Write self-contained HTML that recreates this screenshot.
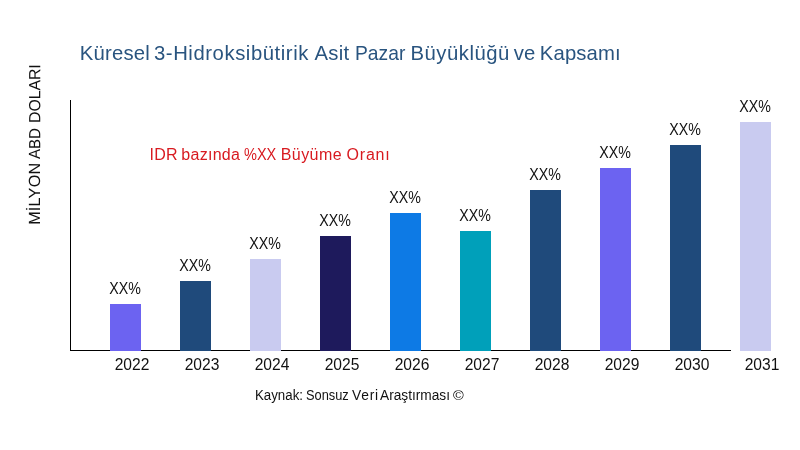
<!DOCTYPE html>
<html lang="tr">
<head>
<meta charset="utf-8">
<title>Küresel 3-Hidroksibütirik Asit Pazar Büyüklüğü ve Kapsamı</title>
<style>
html,body{margin:0;padding:0;background:#fff;}
body{width:800px;height:450px;overflow:hidden;position:relative;font-family:"Liberation Sans","DejaVu Sans",sans-serif;color:#111;}
.line{position:absolute;left:0;width:800px;height:0;white-space:nowrap;line-height:1;margin:0;font-weight:normal;}
.line span{position:absolute;top:0;display:block;white-space:nowrap;transform-origin:0 0;}
#title{top:42.8px;font-size:20.3px;color:#29547f;}
#note{top:147px;font-size:16px;color:#d81a20;}
#src{top:388.6px;font-size:13.8px;color:#111;}
#ylab{left:25.7px;top:300px;font-size:16.2px;color:#111;transform:rotate(-89.95deg);transform-origin:0 0;}
.bar{position:absolute;width:31px;}
.v{position:absolute;width:60px;text-align:center;font-size:15.6px;line-height:1;color:#111;white-space:nowrap;transform:scaleX(0.91);}
.y{position:absolute;width:60px;text-align:center;font-size:16px;line-height:1;color:#111;white-space:nowrap;top:357px;transform:scaleX(0.975);}
#ax-y{position:absolute;left:70px;top:100px;width:1px;height:251px;background:#000;}
#ax-x{position:absolute;left:70px;top:350px;width:661px;height:1px;background:#000;}
</style>
</head>
<body>
<h1 id="title" class="line"><span style="left:79.85px;letter-spacing:0.183px;">Küresel</span> <span style="left:154.0px;letter-spacing:0.562px;">3-Hidroksibütirik</span> <span style="left:314.5px;letter-spacing:0.3px;">Asit</span> <span style="left:355.1px;transform:scaleX(0.95);">Pazar</span> <span style="left:410.5px;letter-spacing:0.512px;">Büyüklüğü</span> <span style="left:513.85px;letter-spacing:0.1px;">ve</span> <span style="left:539.85px;letter-spacing:0.125px;">Kapsamı</span></h1>
<div id="ylab" class="line"><span style="left:75.15px;letter-spacing:0.23px;">MİLYON</span> <span style="left:141.2px;transform:scaleX(0.9277);">ABD</span> <span style="left:177.25px;transform:scaleX(0.9748);">DOLARI</span></div>
<div id="note" class="line"><span style="left:149.5px;letter-spacing:0.2px;">IDR</span> <span style="left:181.25px;letter-spacing:0.292px;">bazında</span> <span style="left:244.4px;transform:scaleX(0.9079);">%XX</span> <span style="left:280.75px;letter-spacing:0.42px;">Büyüme</span> <span style="left:346.5px;letter-spacing:0.812px;">Oranı</span></div>
<div id="ax-y"></div>
<div id="ax-x"></div>
<div class="bar" style="left:110px;top:304px;height:47px;background:#6c63f1"></div>
<div class="bar" style="left:180px;top:281px;height:70px;background:#1f4a7b"></div>
<div class="bar" style="left:250px;top:259px;height:92px;background:#c9cbf0"></div>
<div class="bar" style="left:320px;top:236px;height:115px;background:#1e1a5c"></div>
<div class="bar" style="left:390px;top:213px;height:138px;background:#0d7ae5"></div>
<div class="bar" style="left:460px;top:231px;height:120px;background:#00a0ba"></div>
<div class="bar" style="left:530px;top:190px;height:161px;background:#1f4a7b"></div>
<div class="bar" style="left:600px;top:168px;height:183px;background:#6c63f1"></div>
<div class="bar" style="left:670px;top:145px;height:206px;background:#1f4a7b"></div>
<div class="bar" style="left:740px;top:122px;height:229px;background:#c9cbf0"></div>
<div class="v" style="left:95.2px;top:281px">XX%</div>
<div class="v" style="left:165.2px;top:258px">XX%</div>
<div class="v" style="left:235.2px;top:236px">XX%</div>
<div class="v" style="left:305.2px;top:213px">XX%</div>
<div class="v" style="left:375.2px;top:190px">XX%</div>
<div class="v" style="left:445.2px;top:208px">XX%</div>
<div class="v" style="left:515.2px;top:167px">XX%</div>
<div class="v" style="left:585.2px;top:145px">XX%</div>
<div class="v" style="left:655.2px;top:122px">XX%</div>
<div class="v" style="left:725.2px;top:99px">XX%</div>
<div class="y" style="left:102.3px">2022</div>
<div class="y" style="left:172.3px">2023</div>
<div class="y" style="left:242.3px">2024</div>
<div class="y" style="left:312.3px">2025</div>
<div class="y" style="left:382.3px">2026</div>
<div class="y" style="left:452.3px">2027</div>
<div class="y" style="left:522.3px">2028</div>
<div class="y" style="left:592.3px">2029</div>
<div class="y" style="left:662.3px">2030</div>
<div class="y" style="left:732.3px">2031</div>
<div id="src" class="line"><span style="left:254.6px;transform:scaleX(0.9621);">Kaynak:</span> <span style="left:306.3px;transform:scaleX(0.9293);">Sonsuz</span> <span style="left:352.1px;letter-spacing:0.717px;">Veri</span> <span style="left:380.0px;transform:scaleX(0.9928);">Araştırması</span> <span style="left:452.85px;transform:scaleX(1.1336);font-size:12.9px;top:1.2px;">©</span></div>
</body>
</html>
